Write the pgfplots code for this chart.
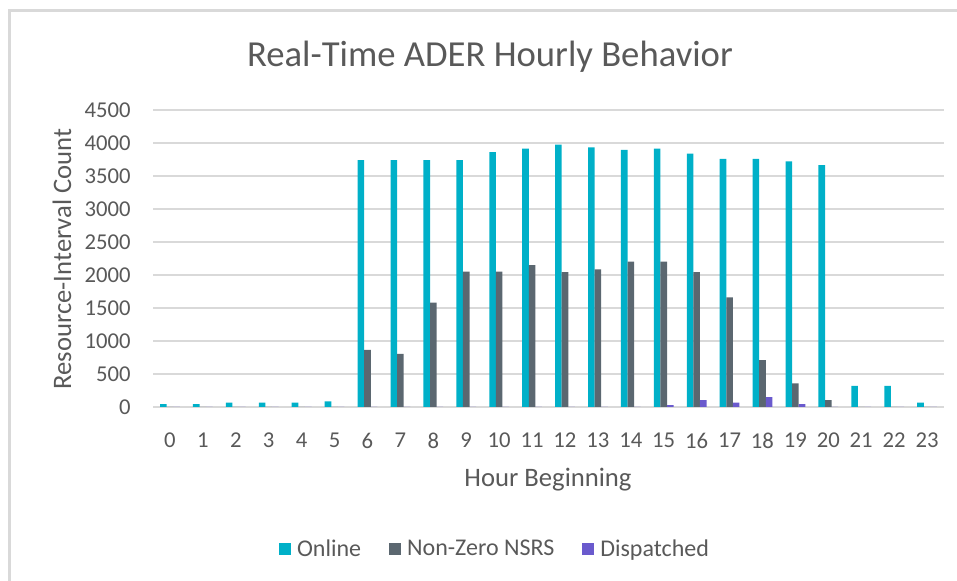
\documentclass[border=0pt]{standalone}
\usepackage{pgfplots}
\pgfplotsset{compat=1.18}
\usepackage{fontspec}
\setmainfont{Carlito}
\definecolor{online}{RGB}{0,176,200}
\definecolor{nsrs}{RGB}{91,103,112}
\definecolor{disp}{RGB}{106,90,205}
\definecolor{gridc}{RGB}{217,217,217}
\definecolor{txt}{RGB}{89,89,89}
\begin{document}
\begin{tikzpicture}
\begin{axis}[
  scale only axis, width=592.5pt, height=222.75pt,
  xmin=-0.5, xmax=23.5, ymin=0, ymax=4500,
  xtick={0,...,23}, ytick={0,500,...,4500},
  ymajorgrids, grid style={draw=gridc, line width=1.1pt},
  axis line style={draw=none}, major tick length=0pt,
  ybar, bar width=0.2,
  tick label style={font=\fontsize{17}{20}\selectfont, text=txt, inner sep=0pt},
  /pgf/number format/assume math mode=true,
  /pgf/number format/1000 sep={},
  yticklabel style={anchor=east, xshift=-16.9pt},
  xticklabel style={anchor=north, yshift=-19.5pt},
  legend style={draw=none, fill=none, at={(0.4310,-0.478)}, anchor=center,
    legend columns=3, font=\fontsize{18}{21}\selectfont, text=txt,
    /tikz/every odd column/.append style={column sep=4.5pt},
    /tikz/every even column/.append style={column sep=21pt},
    nodes={inner sep=0pt}},
  legend image code/.code={\fill[#1] (0pt,-4.5pt) rectangle (9pt,4.5pt);},
]
\addplot[fill=online, draw=none, bar shift=-0.2] coordinates {
(0,45) (1,45) (2,65) (3,65) (4,65) (5,85) (6,3740) (7,3740) (8,3740) (9,3740)
(10,3860) (11,3915) (12,3975) (13,3935) (14,3895) (15,3915) (16,3840) (17,3760)
(18,3760) (19,3720) (20,3665) (21,320) (22,320) (23,65)};
\addplot[fill=nsrs, draw=none, bar shift=0] coordinates {
(0,0) (1,0) (2,0) (3,0) (4,0) (5,0) (6,865) (7,805) (8,1580) (9,2050)
(10,2050) (11,2150) (12,2045) (13,2086) (14,2202) (15,2202) (16,2045) (17,1662)
(18,712) (19,359) (20,106) (21,0) (22,0) (23,0)};
\addplot[fill=disp, draw=none, bar shift=0.2] coordinates {
(0,0) (1,0) (2,0) (3,0) (4,0) (5,0) (6,0) (7,0) (8,0) (9,0)
(10,0) (11,0) (12,0) (13,0) (14,0) (15,30) (16,106) (17,65)
(18,150) (19,45) (20,0) (21,0) (22,0) (23,0)};
\legend{Online, Non-Zero NSRS, Dispatched}
\coordinate (bl) at (rel axis cs:0,0);
\end{axis}
\begin{scope}[shift={(bl)}, x=0.75pt, y=-0.75pt, shift={(-153.5,-407)}]
\draw[gridc, line width=2.2pt] (9.5,581) -- (9.5,10.5) -- (957,10.5);
\node[font=\fontsize{27.5}{30}\selectfont, text=txt, anchor=base] at (490,67) {Real-Time ADER Hourly Behavior};
\node[rotate=90, font=\fontsize{20}{24}\selectfont, text=txt] at (62,259) {Resource-Interval Count};
\node[font=\fontsize{20}{24}\selectfont, text=txt, anchor=base] at (548,487) {Hour Beginning};
\pgfresetboundingbox
\path[use as bounding box] (0,0) rectangle (957,581);
\end{scope}
\end{tikzpicture}
\end{document}
